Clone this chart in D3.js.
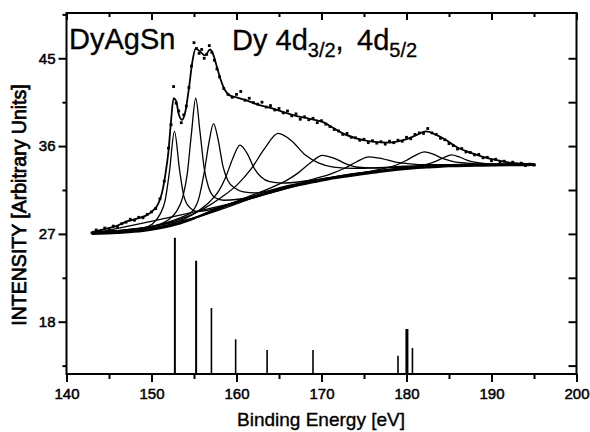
<!DOCTYPE html>
<html>
<head>
<meta charset="utf-8">
<script src="https://cdn.jsdelivr.net/npm/d3@7"></script>
<style>
  html, body { margin: 0; padding: 0; background: #fff; }
  svg { display: block; font-family: "Liberation Sans", Arial, sans-serif; }
</style>
</head>
<body>
<svg id="chart" width="590" height="432"></svg>
<script>
// Dy 4d photoemission spectrum of DyAgSn with fitted multiplet components

const xTicks = [140, 150, 160, 170, 180, 190, 200];
const xMinorTicks = [145, 155, 165, 175, 185, 195];
const yTicks = [18, 27, 36, 45];
const yMinorTicks = [13.5, 22.5, 31.5, 40.5, 49.5];

// multiplet line positions [eV] and intensities
const stickEnergy = [152.75, 155.25, 157.05, 159.9, 163.6, 169.0, 179.0, 180.05, 180.7];
const stickIntensity = [26.6, 24.25, 19.4, 16.2, 15.1, 15.1, 14.5, 17.25, 15.3];
const stickWidth = [2, 2, 1.6, 1.6, 1.6, 1.6, 1.6, 3, 1.6];

// measured spectrum
const dataEnergy = [143.0,143.5,144.0,144.5,145.0,145.5,146.0,146.5,147.0,147.5,148.0,148.5,149.0,149.5,150.0,150.5,151.0,151.5,152.0,152.3,152.6,152.9,153.2,153.5,153.8,154.1,154.4,154.7,155.0,155.3,155.6,155.9,156.2,156.5,156.8,157.1,157.4,157.7,158.0,158.5,159.0,159.5,160.0,160.5,161.0,161.5,162.0,162.5,163.0,163.5,164.0,164.5,165.0,165.5,166.0,166.5,167.0,167.5,168.0,168.5,169.0,169.5,170.0,170.5,171.0,171.5,172.0,172.5,173.0,173.5,174.0,174.5,175.0,175.5,176.0,176.5,177.0,177.5,178.0,178.5,179.0,179.5,180.0,180.5,181.0,181.5,182.0,182.5,183.0,183.5,184.0,184.5,185.0,185.5,186.0,186.5,187.0,187.5,188.0,188.5,189.0,189.5,190.0,190.5,191.0,191.5,192.0,192.5,193.0,193.5,194.0,194.5,195.0];
const dataIntensity = [27.1,27.4,27.3,27.6,27.45,27.8,27.75,28.05,28.2,28.5,28.4,28.7,28.65,29.0,29.25,29.6,30.6,32.4,35.8,38.2,42.1,40.4,39.6,38.4,39.2,40.1,42.0,44.2,46.6,46.0,45.5,45.9,45.0,45.4,46.3,45.6,44.8,43.9,43.1,41.9,41.3,41.0,41.3,41.6,40.7,40.9,40.45,40.3,40.5,40.0,40.15,39.7,39.85,39.4,39.6,39.1,39.3,38.75,39.0,38.7,38.85,38.4,38.6,38.25,38.0,37.7,37.55,37.2,37.3,36.9,36.85,36.6,36.7,36.35,36.55,36.3,36.45,36.2,36.5,36.35,36.6,36.5,36.9,36.75,37.2,37.35,37.3,37.8,37.35,37.2,36.8,36.65,36.25,36.05,35.7,35.75,35.4,35.35,35.1,35.15,34.8,34.85,34.5,34.65,34.3,34.45,34.2,34.35,34.1,34.25,34.0,34.15,34.05];

// total fit
const fitLine = [[143.1,27.2],[144.5,27.5],[146,27.85],[147.2,28.3],[148.4,28.6],[149.4,28.9],[150.2,29.4],[150.8,30.1],[151.2,31.1],[151.6,32.9],[152.0,35.5],[152.3,38.6],[152.6,40.9],[152.9,40.6],[153.2,39.3],[153.6,38.7],[154.0,39.6],[154.4,41.9],[154.8,44.6],[155.2,46.0],[155.7,45.7],[156.3,45.3],[156.9,45.9],[157.3,45.3],[157.7,44.1],[158.1,42.9],[158.6,41.8],[159.2,41.2],[160.0,41.0],[161.1,40.7],[162.7,40.2],[164.3,39.85],[165.8,39.4],[167.2,39.05],[168.6,38.8],[170.2,38.45],[171.3,37.9],[172.5,37.3],[174.1,36.8],[176.0,36.45],[178.0,36.35],[179.6,36.6],[181.1,37.1],[182.3,37.5],[183.5,37.15],[184.7,36.6],[185.8,35.95],[187.4,35.35],[189.0,34.9],[190.6,34.55],[192.1,34.3],[193.7,34.2],[195.1,34.1]];

// inelastic background
const backgroundLine = [[143,27.0],[146,27.12],[149,27.32],[151,27.6],[153,28.0],[155,28.6],[157,29.3],[159,29.95],[161,30.5],[163,31.0],[165,31.5],[167,31.95],[169,32.3],[171,32.65],[173,32.9],[175,33.15],[177,33.4],[179,33.6],[181,33.75],[183,33.85],[185,33.95],[188,34.0],[192,34.05],[195.2,34.08]];

// fitted components (each on top of the background)
const comp1 = [[143,27.03],[147,27.25],[149,27.55],[150,27.95],[151,29.0],[151.6,30.4],[152.1,33.3],[152.7,37.5],[153.3,33.55],[153.8,30.9],[154.4,29.8],[155.4,29.3],[157,29.5],[160,30.3],[165,31.55],[172,32.85],[180,33.72],[188,34.02],[195,34.12]];
const comp2 = [[143,27.1],[147,27.35],[150.2,27.8],[151.9,28.4],[152.9,29.25],[153.7,30.85],[154.2,33.1],[154.7,37.3],[155.2,40.9],[155.7,37.5],[156.2,33.75],[156.7,31.8],[157.5,30.7],[158.5,30.45],[160.2,30.55],[165,31.65],[172,32.9],[180,33.75],[188,34.03],[195,34.13]];
const comp3 = [[143,27.1],[148,27.4],[150,27.7],[152.3,28.3],[153.8,28.8],[154.8,29.3],[155.6,30.75],[156.2,33.3],[156.75,36.3],[157.3,38.3],[157.85,36.6],[158.4,33.95],[159.0,32.45],[159.8,31.7],[160.8,31.3],[162.3,31.2],[166,31.95],[172,32.92],[180,33.76],[188,34.04],[195,34.14]];
const comp4 = [[143,27.15],[148,27.45],[152.4,28.05],[155.4,29.3],[156.9,30.35],[157.9,31.38],[158.7,32.75],[159.55,34.7],[160.4,36.1],[161.25,35.25],[162.1,33.7],[162.9,32.83],[163.9,32.35],[165.4,32.2],[168.4,32.45],[174,33.2],[181,33.85],[188,34.05],[195,34.15]];
const comp5 = [[143,27.2],[148,27.5],[151.9,28.1],[155.9,29.46],[158.4,30.85],[160.1,32.05],[161.7,33.63],[163.3,35.73],[164.9,37.3],[166.5,36.53],[168.1,35.08],[169.7,34.25],[171.4,33.85],[173.9,33.71],[177.9,33.85],[183,34.05],[189,34.15],[195,34.2]];
const comp6 = [[143,27.1],[150,27.55],[156,28.9],[161.1,30.72],[164.1,31.75],[165.9,32.48],[167.3,33.28],[168.7,34.29],[170.1,35.05],[171.5,34.74],[172.9,34.18],[174.3,33.83],[176.1,33.75],[179.1,33.82],[184,33.98],[190,34.08],[195,34.13]];
const comp7 = [[143,27.05],[152,27.8],[160,30.3],[165,31.55],[168.6,32.5],[171.1,33.16],[172.6,33.68],[174.1,34.37],[175.6,34.9],[177.1,34.72],[178.6,34.38],[180.1,34.21],[182.6,34.09],[186,34.1],[190,34.12],[195,34.15]];
const comp8 = [[143,27.03],[155,28.65],[165,31.55],[170,32.56],[174.1,33.16],[177.1,33.66],[178.8,34.06],[179.9,34.5],[181,35.03],[182.1,35.4],[183.2,35.15],[184.3,34.71],[185.4,34.44],[187.1,34.25],[190.1,34.13],[195,34.15]];
const comp9 = [[143,27.02],[160,30.25],[170,32.55],[176,33.35],[181.3,33.95],[182.6,34.18],[183.5,34.46],[184.4,34.83],[185.3,35.1],[186.2,34.89],[187.1,34.57],[188,34.35],[189.3,34.2],[192,34.12],[195,34.14]];
const components = [comp1, comp2, comp3, comp4, comp5, comp6, comp7, comp8, comp9];

const svg = d3.select("#chart");
const plotLeft = 66.5, plotRight = 576.5, plotTop = 13, plotBottom = 374;

const x = d3.scaleLinear().domain([140, 200]).range([plotLeft, plotRight]);
const y = d3.scaleLinear().domain([12.64, 49.64]).range([plotBottom, plotTop]);

const line = d3.line().x(d => x(d[0])).y(d => y(d[1])).curve(d3.curveMonotoneX);

const plot = svg.append("g");

// multiplet sticks
plot.selectAll("line.stick")
  .data(stickEnergy.map((e, i) => ({ e, v: stickIntensity[i], w: stickWidth[i] })))
  .join("line")
  .attr("class", "stick")
  .attr("x1", d => x(d.e)).attr("x2", d => x(d.e))
  .attr("y1", y(12.64)).attr("y2", d => y(d.v))
  .attr("stroke", "#000").attr("stroke-width", d => d.w);

// components
plot.selectAll("path.comp")
  .data(components)
  .join("path")
  .attr("class", "comp")
  .attr("d", line)
  .attr("fill", "none").attr("stroke", "#000").attr("stroke-width", 1.3);

// background
plot.append("path").datum(backgroundLine)
  .attr("d", line)
  .attr("fill", "none").attr("stroke", "#000").attr("stroke-width", 2.4);

// fit envelope
plot.append("path").datum(fitLine)
  .attr("d", line)
  .attr("fill", "none").attr("stroke", "#000").attr("stroke-width", 1.8);

// measured points
plot.selectAll("rect.pt")
  .data(dataEnergy.map((e, i) => [e, dataIntensity[i]]))
  .join("rect")
  .attr("class", "pt")
  .attr("x", d => x(d[0]) - 1.4).attr("y", d => y(d[1]) - 1.4)
  .attr("width", 2.8).attr("height", 2.8)
  .attr("fill", "#000");

// frame
svg.append("rect")
  .attr("x", plotLeft).attr("y", plotTop)
  .attr("width", plotRight - plotLeft).attr("height", plotBottom - plotTop)
  .attr("fill", "none").attr("stroke", "#000").attr("stroke-width", 2);

// axes
const tickFont = g => g.selectAll("text")
  .attr("font-size", 15).attr("fill", "#000")
  .attr("stroke", "#000").attr("stroke-width", 0.5)
  .attr("font-family", "Liberation Sans, Arial, sans-serif");

const axB = svg.append("g").attr("transform", `translate(0,${plotBottom})`)
  .call(d3.axisBottom(x).tickValues(xTicks).tickSize(8).tickPadding(6).tickFormat(d3.format("d")));
axB.select(".domain").remove();
axB.call(tickFont);
axB.selectAll("line").attr("stroke-width", 2);
svg.append("g").attr("transform", `translate(0,${plotBottom})`)
  .call(d3.axisBottom(x).tickValues(xMinorTicks).tickSize(5).tickFormat(""))
  .call(g => g.select(".domain").remove())
  .selectAll("line").attr("stroke-width", 2);

const axL = svg.append("g").attr("transform", `translate(${plotLeft},0)`)
  .call(d3.axisLeft(y).tickValues(yTicks).tickSize(8).tickPadding(3).tickFormat(d3.format("d")));
axL.select(".domain").remove();
axL.call(tickFont);
axL.selectAll("line").attr("stroke-width", 2);
svg.append("g").attr("transform", `translate(${plotLeft},0)`)
  .call(d3.axisLeft(y).tickValues(yMinorTicks).tickSize(4).tickFormat(""))
  .call(g => g.select(".domain").remove())
  .selectAll("line").attr("stroke-width", 2);

// inward ticks on top and right
svg.append("g").attr("transform", `translate(0,${plotTop})`)
  .call(d3.axisBottom(x).tickValues(xTicks).tickSize(7).tickFormat(""))
  .call(g => g.select(".domain").remove())
  .selectAll("line").attr("stroke-width", 2);
svg.append("g").attr("transform", `translate(0,${plotTop})`)
  .call(d3.axisBottom(x).tickValues(xMinorTicks).tickSize(4).tickFormat(""))
  .call(g => g.select(".domain").remove())
  .selectAll("line").attr("stroke-width", 2);
svg.append("g").attr("transform", `translate(${plotRight},0)`)
  .call(d3.axisLeft(y).tickValues(yTicks.concat(yMinorTicks.filter(v => v < 49))).tickSize(8).tickFormat(""))
  .call(g => g.select(".domain").remove())
  .selectAll("line").attr("stroke-width", 2);

// axis titles
svg.append("text")
  .attr("x", 321).attr("y", 426)
  .attr("text-anchor", "middle")
  .attr("font-size", 19)
  .attr("stroke", "#000").attr("stroke-width", 0.35)
  .text("Binding Energy [eV]");

svg.append("text")
  .attr("transform", "translate(26,205) rotate(-90)")
  .attr("text-anchor", "middle")
  .attr("font-size", 19.5)
  .attr("stroke", "#000").attr("stroke-width", 0.7)
  .text("INTENSITY [Arbitrary Units]");

// panel labels
svg.append("text")
  .attr("x", 69).attr("y", 49)
  .attr("font-size", 29)
  .attr("stroke", "#000").attr("stroke-width", 0.3)
  .text("DyAgSn");

const lbl = svg.append("text").attr("y", 50).attr("font-size", 29)
  .attr("stroke", "#000").attr("stroke-width", 0.3);
lbl.append("tspan").attr("x", 232).text("Dy 4d");
lbl.append("tspan").attr("font-size", 20).attr("dy", 7).text("3/2");
lbl.append("tspan").attr("dy", -7).text(",");
lbl.append("tspan").attr("x", 357).text("4d");
lbl.append("tspan").attr("font-size", 20).attr("dy", 7).text("5/2");
</script>
</body>
</html>
